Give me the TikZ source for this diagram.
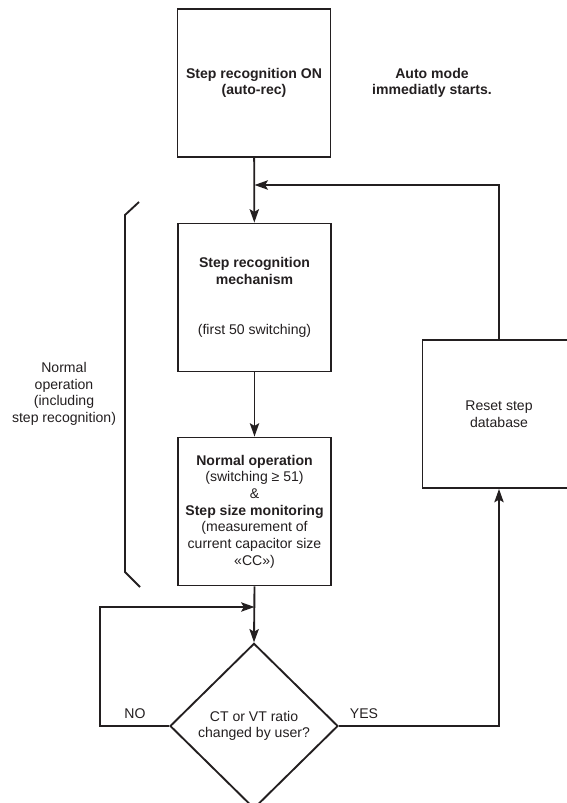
\documentclass[tikz,border=0pt]{standalone}
\usepackage{fontspec}
\setmainfont{Liberation Sans}
\usetikzlibrary{shapes.geometric, arrows.meta}
\definecolor{ink}{HTML}{231F20}

\begin{document}
\begin{tikzpicture}[x=0.3mm, y=-0.3mm, line width=1.6pt, color=ink,
		txt/.style={align=center, inner sep=1pt, font=\fontsize{12}{14.2}\selectfont},
		box/.style={txt, draw, rectangle, minimum width=45.9mm, minimum height=44.4mm},
		decision/.style={txt, draw, diamond, minimum width=50.4mm, minimum height=49.6mm},
		arr/.style={-{Stealth[length=4mm, width=2.8mm, inset=0.8mm]}}]
			\useasboundingbox (0,0) rectangle (566,803);
			\node[box] (start) at (254,83) {\textbf{Step recognition ON}\\\textbf{(auto-rec)}};
			\node[txt, font=\fontsize{12}{14.2}\selectfont\bfseries] (auto) at (432,83) {Auto mode\\immediatly starts.};
			\node[box] (recog) at (254.5,297.5) {\textbf{Step recognition}\\\textbf{mechanism}\\[28.4pt](first 50 switching)};
			\node[box] (normal) at (254.5,511.5) {\textbf{Normal operation}\\(switching ≥ 51)\\\&\\\textbf{Step size monitoring}\\(measurement of\\current capacitor size\\«CC»)};
			\node[decision] (check) at (254,726) {CT or VT ratio\\changed by user?};
			\node[box] (reset) at (499,414) {Reset step\\database};
			\node[txt] (bracetext) at (64,394) {Normal\\operation\\(including\\step recognition)};
			\node[txt] (no) at (135,714) {NO};
			\node[txt] (yes) at (364,714) {YES};
			\coordinate (join1) at (254.5,185);
			\coordinate (noloop) at (100,607);
			\coordinate (join2) at (254.5,607);
			\draw[arr] (start) -- (recog);
			\draw[arr] (reset.north) |- (join1);
			\draw[arr] (recog) -- (normal);
			\draw[arr] (normal.south) -- (check.north);
			\draw[arr] (check.west) -| (noloop) -- (join2);
			\draw[arr] (check.east) -| (reset.south);
			\draw (139,202) -- (125,215) -- (125,572) -- (140,587);
		\end{tikzpicture}
\end{document}
